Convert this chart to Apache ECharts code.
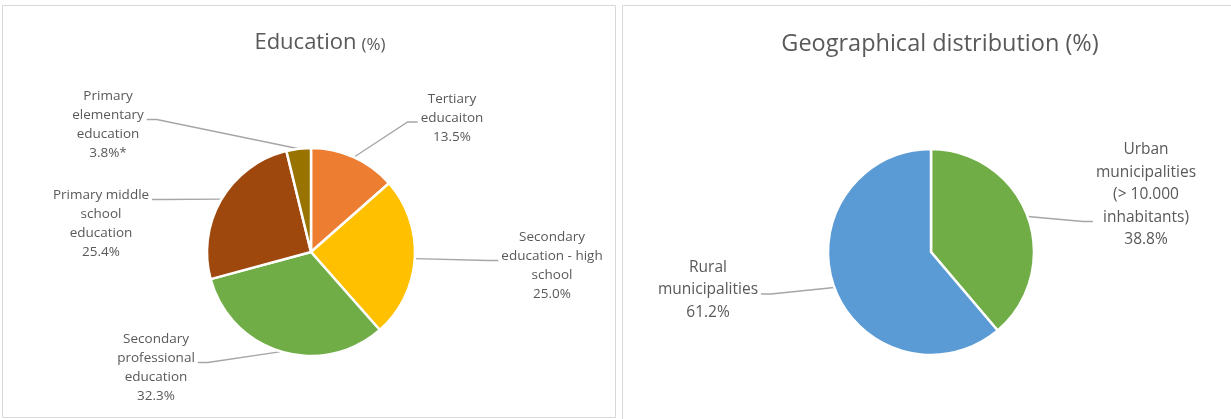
<!DOCTYPE html>
<html>
<head>
<meta charset="utf-8">
<script src="https://cdn.jsdelivr.net/npm/echarts@6/dist/echarts.min.js"></script>
<style>
  html, body { margin: 0; padding: 0; background: #ffffff; }
  #chart { width: 1231px; height: 419px; }
</style>
</head>
<body>
<div id="chart"></div>
<script>
// Education shares, clockwise from 12 o'clock
const eduCategories = [
  'Tertiary\neducaiton',
  'Secondary\neducation - high\nschool',
  'Secondary\nprofessional\neducation',
  'Primary middle\nschool\neducation',
  'Primary\nelementary\neducation'
];
const eduValues = [13.5, 25.0, 32.3, 25.4, 3.8];
const eduNotes = ['', '', '', '', '*'];

// Geographical distribution, clockwise from 12 o'clock
const geoCategories = [
  'Urban\nmunicipalities\n(> 10.000\ninhabitants)',
  'Rural\nmunicipalities'
];
const geoValues = [38.8, 61.2];

const eduColors = ['#ED7D31', '#FFC000', '#70AD47', '#9E480E', '#997300'];
const geoColors = ['#70AD47', '#5B9BD5'];

const FONT = '"Open Sans", "Noto Sans", sans-serif';
const TEXT = '#595959';

// pie builder: labels are centred on given points, leader lines run from the
// slice's mid-angle point on the rim to a short horizontal stub beside one text line
function pieSeries(cfg) {
  const { cats, vals, notes, colors, center, radius, labelPos, attachLine, fontSize, lineHeight } = cfg;
  return {
    type: 'pie',
    center: center,
    radius: radius,
    startAngle: 90,
    clockwise: true,
    avoidLabelOverlap: false,
    animation: false,
    silent: true,
    data: cats.map((c, i) => ({
      name: c,
      value: vals[i],
      itemStyle: { color: colors[i] }
    })),
    itemStyle: { borderColor: '#ffffff', borderWidth: 2.5 },
    label: {
      show: true,
      position: 'outside',
      color: TEXT,
      fontFamily: FONT,
      fontSize: fontSize,
      lineHeight: lineHeight,
      align: 'center',
      formatter: p => p.name + '\n' + p.value.toFixed(1) + '%' + (notes ? notes[p.dataIndex] : '')
    },
    labelLine: {
      show: true,
      length: 10,
      length2: 6,
      lineStyle: { color: '#A6A6A6', width: 1.3 }
    },
    labelLayout: p => {
      const i = p.dataIndex;
      const lx = labelPos[i][0], ly = labelPos[i][1];
      const w = p.labelRect.width, h = p.labelRect.height;
      const onRight = lx > center[0];
      const ax = onRight ? lx - w / 2 - 3 : lx + w / 2 + 3;
      const ay = ly - h / 2 + lineHeight * (attachLine[i] - 0.5) + 4;
      const ex = onRight ? ax - 10 : ax + 10;
      const rim = p.labelLinePoints ? p.labelLinePoints[0] : [ex, ay];
      return {
        x: lx,
        y: ly,
        align: 'center',
        verticalAlign: 'middle',
        labelLinePoints: [rim, [ex, ay], [ax, ay]]
      };
    }
  };
}

const chart = echarts.init(document.getElementById('chart'), null, { renderer: 'canvas' });
chart.setOption({
  backgroundColor: '#ffffff',
  animation: false,
  graphic: [
    { type: 'rect', shape: { x: 2.5, y: 5.5, width: 613, height: 412 },
      style: { fill: 'none', stroke: '#D9D9D9', lineWidth: 1 }, silent: true },
    { type: 'rect', shape: { x: 622.5, y: 5.5, width: 640, height: 430 },
      style: { fill: 'none', stroke: '#D9D9D9', lineWidth: 1 }, silent: true }
  ],
  title: [
    {
      text: '{a|Education} {b|(%)}',
      left: 315, top: 27, textAlign: 'center',
      textStyle: {
        rich: {
          a: { fontFamily: FONT, fontSize: 22, fontWeight: 'normal', color: TEXT },
          b: { fontFamily: FONT, fontSize: 17, fontWeight: 'normal', color: TEXT, padding: [4, 0, 0, 0] }
        }
      }
    },
    {
      text: 'Geographical distribution (%)',
      left: 935, top: 27, textAlign: 'center',
      textStyle: { fontFamily: FONT, fontSize: 23.5, fontWeight: 'normal', color: TEXT }
    }
  ],
  series: [
    pieSeries({
      cats: eduCategories, vals: eduValues, notes: eduNotes, colors: eduColors,
      center: [311, 252], radius: 104,
      labelPos: [[452, 118], [552, 266], [156, 368], [101, 224], [108, 125]],
      attachLine: [2, 2, 2, 1, 2],
      fontSize: 13.5, lineHeight: 19
    }),
    pieSeries({
      cats: geoCategories, vals: geoValues, notes: null, colors: geoColors,
      center: [931, 252], radius: 103,
      labelPos: [[1146, 195], [708, 290]],
      attachLine: [4, 2],
      fontSize: 15.5, lineHeight: 22.5
    })
  ]
});
</script>
</body>
</html>
